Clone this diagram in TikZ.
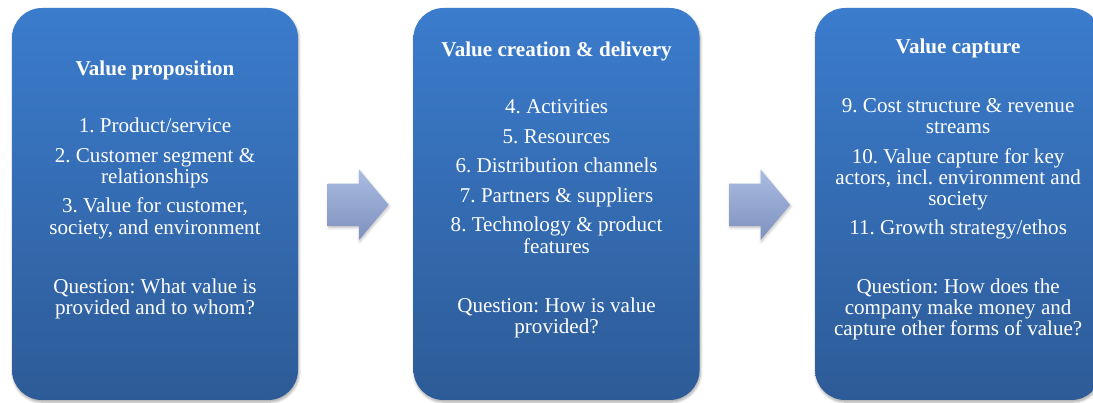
\documentclass[tikz,border=0pt]{standalone}
\usepackage{fontspec}
\setmainfont{Liberation Serif}
\usetikzlibrary{calc,positioning,shadows,shadows.blur,shapes.arrows}

\definecolor{boxtop}{RGB}{59,124,205}
\definecolor{boxbot}{RGB}{45,91,151}
\definecolor{arrtop}{RGB}{170,188,225}
\definecolor{arrbot}{RGB}{126,145,190}

\begin{document}
\begin{tikzpicture}[auto]
	\tikzstyle{block} = [rectangle, rounded corners=0.75cm, minimum width=7.15cm, minimum height=9.8cm, top color=boxtop, bottom color=boxbot, blur shadow={shadow xshift=0.6pt, shadow yshift=-1.5pt, shadow blur steps=6, shadow opacity=35}]
	\tikzstyle{txt} = [align=center, text=white, inner sep=0pt, font=\fontsize{15}{15}\selectfont\frenchspacing]
	\tikzstyle{bigarrow} = [single arrow, anchor=tail, minimum height=1.525cm, inner xsep=0.2cm, inner ysep=0.525cm, single arrow head extend=0.35cm, single arrow tip angle=100, top color=arrtop, bottom color=arrbot, blur shadow={shadow xshift=0.6pt, shadow yshift=-1.2pt, shadow blur steps=4, shadow opacity=25}]

	\clip (0,0) rectangle (27.325,10.075);

	\node [block] (prop) at (3.875,4.975) {};
	\node [block, right = 2.875cm of prop] (create) {};
	\node [block, right = 2.875cm of create] (capture) {};

	\node [bigarrow] (arr1) at ([xshift=0.725cm,yshift=-0.02cm]prop.east) {};
	\node [bigarrow] (arr2) at ([xshift=0.725cm,yshift=-0.02cm]create.east) {};

	\node [txt] (proptxt) at ([yshift=0.36cm]prop.center) {\textbf{Value proposition}\\[26pt]
		1. Product/service\\[6pt]
		2. Customer segment \&\\ relationships\\[6pt]
		3. Value for customer,\\ society, and environment\\[27pt]
		Question: What value is\\ provided and to whom?};
	\node [txt] (createtxt) at ([yshift=0.36cm]create.center) {\textbf{Value creation \& delivery}\\[26pt]
		4. Activities\\[6pt]
		5. Resources\\[6pt]
		6. Distribution channels\\[6pt]
		7. Partners \& suppliers\\[6pt]
		8. Technology \& product\\ features\\[27pt]
		Question: How is value\\ provided?};
	\node [txt] (capturetxt) at ([yshift=0.36cm]capture.center) {\textbf{Value capture}\\[27pt]
		9. Cost structure \& revenue\\ streams\\[6pt]
		10. Value capture for key\\ actors, incl. environment and\\ society\\[6pt]
		11. Growth strategy/ethos\\[27pt]
		Question: How does the\\ company make money and\\ capture other forms of value?};

\end{tikzpicture}
\end{document}
